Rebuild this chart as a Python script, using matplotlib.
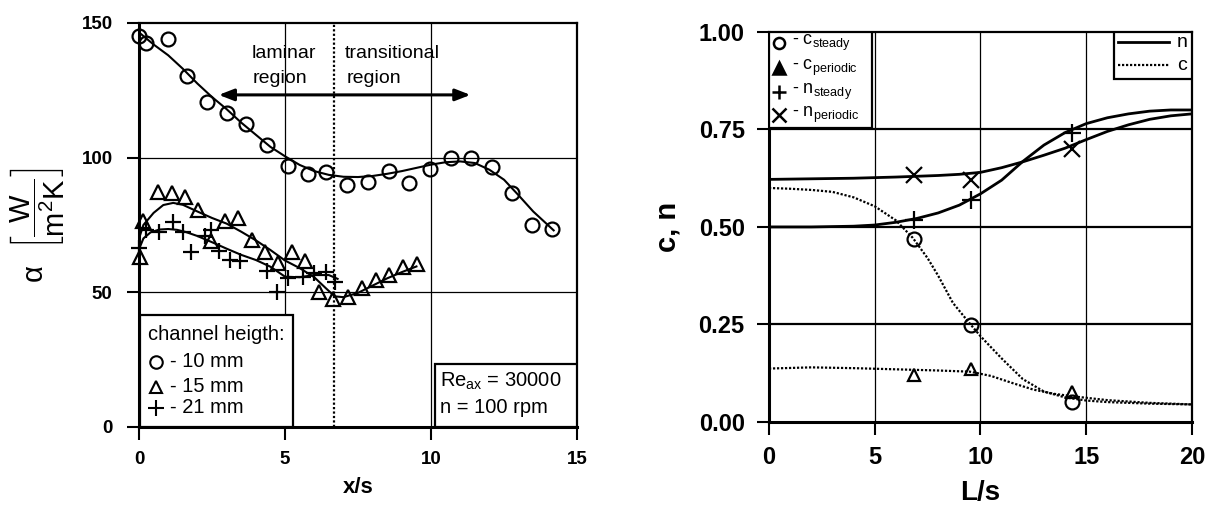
import matplotlib
matplotlib.use('Agg')
import matplotlib.pyplot as plt
from matplotlib.patches import Rectangle

plt.rcParams['font.family'] = ['Liberation Sans', 'DejaVu Sans']
plt.rcParams['mathtext.fontset'] = 'custom'
plt.rcParams['mathtext.rm'] = 'Liberation Sans'
plt.rcParams['mathtext.it'] = 'Liberation Sans:italic'
plt.rcParams['mathtext.bf'] = 'Liberation Sans:bold'

# ---------------- left panel data ----------------
x10 = [0.0, 0.25, 0.99, 1.64, 2.34, 3.0, 3.68, 4.39, 5.1, 5.77, 6.42, 7.13, 7.83, 8.55,
       9.26, 9.97, 10.67, 11.38, 12.09, 12.78, 13.47, 14.15]
y10 = [145, 142.6, 144, 130.4, 120.5, 116.5, 112.6, 104.6, 97, 94, 94.7, 89.7, 91.1, 95,
       90.7, 95.8, 99.8, 99.7, 96.7, 87, 75, 73.6]
fit10_x = [0, 0.5, 1, 1.5, 2, 2.5, 3, 3.5, 4, 4.5, 5, 5.5, 6, 6.5, 7, 7.5, 8, 8.5, 9, 9.5,
           10, 10.5, 11, 11.5, 12, 12.5, 13, 13.5, 14, 14.2]
fit10_y = [146.5, 142, 138, 133, 127.5, 122.5, 118, 113, 108.5, 104, 100.5, 97.3, 95, 93.6,
           92.9, 92.8, 93.2, 94, 95, 96.2, 97.4, 98.3, 98.6, 98, 95.5, 91.8, 86, 80, 75, 73]

x15 = [0.05, 0.15, 0.66, 1.12, 1.58, 2.03, 2.45, 2.95, 3.4, 3.86, 4.3, 4.75, 5.25, 5.7,
       6.15, 6.65, 7.15, 7.65, 8.1, 8.57, 9.05, 9.51]
y15 = [63, 76.5, 87.4, 86.8, 85.5, 80.6, 69, 76.5, 77.5, 69.5, 65, 61, 65, 61.5,
       50, 47.5, 48.2, 51.5, 54.5, 56.5, 59.5, 60.5]
fit15_x = [0, 0.15, 0.5, 0.83, 1.17, 1.5, 2, 2.5, 3, 3.5, 4, 4.5, 5, 5.5, 6, 6.4, 6.7, 7,
           7.5, 8, 8.5, 9, 9.5]
fit15_y = [70, 75, 79.5, 82.4, 83.2, 82.5, 80, 77.6, 75.5, 72.5, 69.3, 65.7, 61.8, 59,
           55.6, 51.5, 48.5, 48.2, 49.8, 52.5, 55.2, 57.5, 59.6]

x21 = [0.0, 0.25, 0.7, 1.17, 1.5, 1.78, 2.27, 2.46, 2.75, 3.12, 3.45, 4.37, 4.73, 5.1,
       5.6, 6.0, 6.4, 6.7]
y21 = [66.5, 73, 72.5, 76, 72.5, 64.8, 71, 73, 65.5, 62, 61.7, 58, 50, 55.2,
       55.5, 57.3, 57.5, 54]
fit21_x = [0, 0.15, 0.4, 0.7, 1, 1.3, 1.6, 2, 2.5, 3, 3.5, 4, 4.5, 5, 5.5, 6, 6.5, 6.8]
fit21_y = [66, 70, 72.3, 73.3, 73.5, 73.2, 72.4, 70.9, 68.6, 66.2, 63.9, 62, 59.5, 55.8,
           55.6, 56.4, 56.4, 55]

left_xticks = [0, 5, 10, 15]
left_yticks = [0, 50, 100, 150]
legend_left_labels = ['- 10 mm', '- 15 mm', '- 21 mm']

# ---------------- right panel data ----------------
L_pts = [6.85, 9.55, 14.35]
c_steady = [0.469, 0.249, 0.052]
c_periodic = [0.12, 0.137, 0.078]
n_steady = [0.518, 0.569, 0.742]
n_periodic = [0.633, 0.621, 0.70]

ns_x = [0, 2, 4, 5, 6, 7, 8, 9, 10, 11, 12, 13, 14, 15, 16, 17, 18, 19, 20]
ns_y = [0.5, 0.5, 0.502, 0.505, 0.512, 0.522, 0.536, 0.556, 0.585, 0.62, 0.668, 0.71,
        0.742, 0.765, 0.78, 0.79, 0.797, 0.8, 0.8]
np_x = [0, 4, 6, 8, 9, 10, 11, 12, 13, 14, 15, 16, 17, 18, 19, 20]
np_y = [0.622, 0.625, 0.628, 0.632, 0.635, 0.64, 0.652, 0.667, 0.684, 0.702, 0.724,
        0.745, 0.762, 0.776, 0.785, 0.79]
cs_x = [0, 1, 2, 3, 4, 5, 6, 6.8, 7.5, 8, 8.7, 9.5, 10, 11, 12, 13, 14, 15, 16, 18, 20]
cs_y = [0.6, 0.598, 0.595, 0.59, 0.576, 0.553, 0.517, 0.472, 0.42, 0.375, 0.305, 0.252,
        0.22, 0.163, 0.11, 0.078, 0.063, 0.055, 0.051, 0.047, 0.045]
cp_x = [0, 2, 4, 6, 8, 9.5, 10.5, 11.5, 12.5, 13.5, 14.5, 16, 18, 20]
cp_y = [0.137, 0.14, 0.138, 0.135, 0.132, 0.129, 0.118, 0.1, 0.083, 0.072, 0.065, 0.056,
        0.049, 0.045]

right_xticks = [0, 5, 10, 15, 20]
right_yticks = [0.0, 0.25, 0.5, 0.75, 1.0]
right_yticklabels = ['0.00', '0.25', '0.50', '0.75', '1.00']

# ---------------- figure ----------------
fig = plt.figure(figsize=(12.11, 5.05), dpi=100)
ax1 = fig.add_axes([0.1148, 0.1545, 0.3617, 0.800])
ax2 = fig.add_axes([0.635, 0.1644, 0.3493, 0.7723])

# ----- left -----
ax1.set_xlim(0, 15)
ax1.set_ylim(0, 150)
for v in [5, 10]:
    ax1.axvline(v, color='k', lw=0.9, zorder=1)
for v in [50, 100]:
    ax1.axhline(v, color='k', lw=0.9, zorder=1)
ax1.axvline(6.68, color='k', lw=1.6, ls=(0, (1, 1)), zorder=1)

ax1.plot(fit10_x, fit10_y, 'k-', lw=1.5, zorder=3)
ax1.plot(fit15_x, fit15_y, 'k-', lw=1.5, zorder=3)
ax1.plot(fit21_x, fit21_y, 'k-', lw=1.5, zorder=3)
mk = dict(ls='none', mfc='none', mec='k', mew=1.6, clip_on=False, zorder=4)
ax1.plot(x10, y10, marker='o', ms=10, **mk)
ax1.plot(x15, y15, marker='^', ms=10, **mk)
ax1.plot(x21, y21, marker='+', ms=12, **mk)

ax1.annotate('', xy=(2.73, 123.3), xytext=(11.35, 123.3),
             arrowprops=dict(arrowstyle='<|-|>,head_length=0.9,head_width=0.35',
                             color='k', lw=2.2, shrinkA=0, shrinkB=0), zorder=5)
ax1.text(3.84, 138.8, 'laminar', fontsize=14, ha='left', va='center')
ax1.text(3.90, 129.5, 'region', fontsize=14, ha='left', va='center')
ax1.text(7.04, 138.8, 'transitional', fontsize=14, ha='left', va='center')
ax1.text(7.10, 129.5, 'region', fontsize=14, ha='left', va='center')

# legend box (left)
ax1.add_patch(Rectangle((0.03, 0), 5.24, 41.5, fill=True, fc='white', ec='k', lw=1.6,
                        zorder=6))
ax1.text(0.3, 34.2, 'channel heigth:', fontsize=14.5, ha='left', va='center', zorder=7)
for yy, m, lab in zip([24.2, 15.0, 7.1], ['o', '^', '+'], legend_left_labels):
    ax1.plot([0.58], [yy], marker=m, ms=11 if m == '+' else 9, ls='none', mfc='none',
             mec='k', mew=1.5, zorder=7)
    ax1.text(1.05, yy, lab, fontsize=14.5, ha='left', va='center', zorder=7)

ax1.add_patch(Rectangle((10.14, 0), 4.86, 23.4, fill=True, fc='white', ec='k', lw=1.6,
                        zorder=6))
ax1.text(10.3, 16.8, r'Re$_{\mathrm{ax}}$ = 30000', fontsize=14.5, ha='left', va='center',
         zorder=7)
ax1.text(10.3, 7.1, 'n = 100 rpm', fontsize=14.5, ha='left', va='center', zorder=7)

ax1.set_xticks(left_xticks)
ax1.set_yticks(left_yticks)
ax1.tick_params(axis='both', direction='out', length=9, width=1.5, labelsize=13.5)
ax1.tick_params(axis='y', pad=10)
ax1.tick_params(axis='x', pad=8.5)
for lab in ax1.get_xticklabels() + ax1.get_yticklabels():
    lab.set_fontweight('bold')
for s in ['left', 'bottom']:
    ax1.spines[s].set_linewidth(2.2)
for s in ['top', 'right']:
    ax1.spines[s].set_linewidth(1.6)
ax1.set_xlabel('x/s', fontsize=16, fontweight='bold')
ax1.xaxis.set_label_coords(0.5, -0.124)
ax1.set_ylabel('α  ' + r'$\left[\dfrac{\mathrm{W}}{\mathrm{m^2K}}\right]$', fontsize=21)
ax1.yaxis.set_label_coords(-0.165, 0.5)

# ----- right -----
ax2.set_xlim(0, 20)
ax2.set_ylim(0, 1.0)
for v in [5, 10, 15]:
    ax2.axvline(v, color='k', lw=0.9, zorder=1)
for v in [0.25, 0.5, 0.75]:
    ax2.axhline(v, color='k', lw=1.6, zorder=1)

ax2.plot(ns_x, ns_y, 'k-', lw=2.0, zorder=3)
ax2.plot(np_x, np_y, 'k-', lw=2.0, zorder=3)
ax2.plot(cs_x, cs_y, color='k', lw=1.6, ls=(0, (1, 0.8)), zorder=3)
ax2.plot(cp_x, cp_y, color='k', lw=1.6, ls=(0, (1, 0.8)), zorder=3)

mk2 = dict(ls='none', mec='k', mew=1.6, clip_on=False, zorder=4)
ax2.plot(L_pts, c_steady, marker='o', ms=10, mfc='none', **mk2)
ax2.plot(L_pts, c_periodic, marker='^', ms=9, mfc='none', **mk2)
ax2.plot(L_pts, n_steady, marker='+', ms=13, **mk2)
ax2.plot(L_pts, n_periodic, marker='x', ms=11, **mk2)

# legend box (right, markers)
ax2.add_patch(Rectangle((0, 0.755), 4.86, 0.245, fill=True, fc='white', ec='k', lw=1.6,
                        zorder=6))
leg_rows = [0.971, 0.907, 0.847, 0.787]
leg_marks = ['o', '^', '+', 'x']
leg_labels = [r'- c$_{\mathrm{steady}}$', r'- c$_{\mathrm{periodic}}$',
              r'- n$_{\mathrm{steady}}$', r'- n$_{\mathrm{periodic}}$']
for yy, m, lab in zip(leg_rows, leg_marks, leg_labels):
    ax2.plot([0.45], [yy], marker=m, ms=10 if m in '+x' else 8, ls='none',
             mfc='k' if m == '^' else 'none', mec='k', mew=1.8, zorder=7)
    ax2.text(1.1, yy, lab, fontsize=13, ha='left', va='center', zorder=7)

ax2.add_patch(Rectangle((16.33, 0.879), 3.67, 0.121, fill=True, fc='white', ec='k', lw=1.6,
                        zorder=6))
ax2.plot([16.5, 18.9], [0.974, 0.974], 'k-', lw=2.0, zorder=7)
ax2.plot([16.5, 18.9], [0.915, 0.915], color='k', lw=1.6, ls=(0, (1, 0.8)), zorder=7)
ax2.text(19.3, 0.974, 'n', fontsize=14, ha='left', va='center', zorder=7)
ax2.text(19.3, 0.915, 'c', fontsize=14, ha='left', va='center', zorder=7)

ax2.set_xticks(right_xticks)
ax2.set_yticks(right_yticks)
ax2.set_yticklabels(right_yticklabels)
ax2.tick_params(axis='both', direction='out', length=9, width=1.5, labelsize=17)
ax2.tick_params(axis='y', pad=8.5)
ax2.tick_params(axis='x', pad=8.5)
for lab in ax2.get_xticklabels() + ax2.get_yticklabels():
    lab.set_fontweight('bold')
for s in ['left', 'bottom']:
    ax2.spines[s].set_linewidth(2.2)
for s in ['top', 'right']:
    ax2.spines[s].set_linewidth(1.6)
ax2.set_xlabel('L/s', fontsize=20, fontweight='bold')
ax2.xaxis.set_label_coords(0.5, -0.149)
ax2.set_ylabel('c, n', fontsize=21, fontweight='bold')
ax2.yaxis.set_label_coords(-0.206, 0.5)

fig.savefig('out.png', dpi=100)
